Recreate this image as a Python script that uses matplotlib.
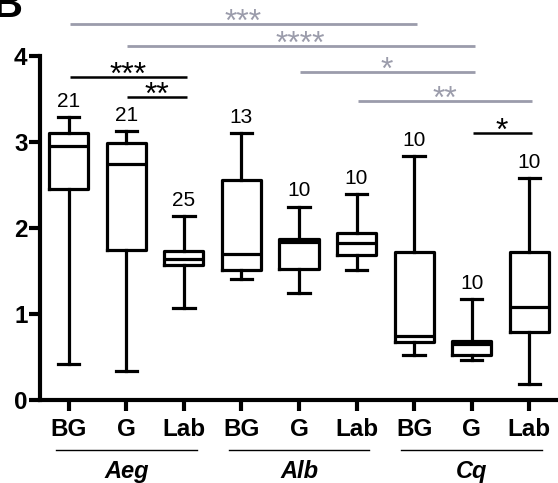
import matplotlib
matplotlib.use("Agg")
import matplotlib.pyplot as plt

plt.rcParams['font.family'] = ['Liberation Sans', 'DejaVu Sans']

# Data
labels = ['BG', 'G', 'Lab', 'BG', 'G', 'Lab', 'BG', 'G', 'Lab']
groups = ['Aeg', 'Alb', 'Cq']
whislo = [0.42, 0.34, 1.07, 1.41, 1.25, 1.51, 0.52, 0.46, 0.19]
q1 = [2.45, 1.75, 1.57, 1.51, 1.52, 1.69, 0.67, 0.52, 0.79]
med = [2.95, 2.75, 1.64, 1.70, 1.84, 1.83, 0.74, 0.65, 1.08]
q3 = [3.10, 2.99, 1.73, 2.56, 1.87, 1.94, 1.72, 0.69, 1.72]
whishi = [3.29, 3.13, 2.14, 3.10, 2.25, 2.40, 2.84, 1.17, 2.58]
n_obs = [21, 21, 25, 13, 10, 10, 10, 10, 10]

# significance brackets: (start box, end box, height, text, gray?)
sig_pairs = [(1, 3, 3.76, '***', False),
             (2, 3, 3.52, '**', False),
             (8, 9, 3.10, '*', False),
             (1, 7, 4.37, '***', True),
             (2, 8, 4.12, '****', True),
             (5, 8, 3.81, '*', True),
             (6, 9, 3.48, '**', True)]

gray = '#9b9cab'
lw = 2.3

fig = plt.figure(figsize=(5.58, 4.83), dpi=100)
ax = fig.add_axes([40 / 558, 83 / 483, 518 / 558, 400 / 483])

pos = list(range(1, len(labels) + 1))
stats = [dict(whislo=whislo[i], q1=q1[i], med=med[i], q3=q3[i],
              whishi=whishi[i], fliers=[]) for i in range(len(labels))]
ax.bxp(stats, positions=pos, widths=0.68, showfliers=False,
       boxprops=dict(color='black', linewidth=lw),
       medianprops=dict(color='black', linewidth=lw),
       whiskerprops=dict(color='black', linewidth=lw),
       capprops=dict(color='black', linewidth=lw),
       capwidths=0.37)

for p, top, n in zip(pos, whishi, n_obs):
    ax.text(p, top + 0.07, str(n), ha='center', va='bottom', fontsize=15)

for a, b, h, s, is_gray in sig_pairs:
    c = gray if is_gray else 'black'
    lwid = 2.0 if is_gray else 1.8
    ax.plot([a + 0.02, b + 0.05], [h, h], color=c, lw=lwid,
            clip_on=False, solid_capstyle='butt')
    ax.text((a + b) / 2 + 0.03, h - 0.08, s, ha='center', va='baseline',
            fontsize=23, color=c)

ax.set_xlim(0.5, 9.5)
ax.set_ylim(0, 400 / 86)
ax.set_yticks([0, 1, 2, 3, 4])
ax.set_xticks(pos)
ax.set_xticklabels(labels)
for t in ax.get_xticklabels() + ax.get_yticklabels():
    t.set_fontweight('bold')
ax.tick_params(axis='x', labelsize=17.5, width=lw * 1.3, length=8, pad=5)
ax.tick_params(axis='y', labelsize=17.5, width=lw * 1.3, length=8, pad=1)

ax.spines['top'].set_visible(False)
ax.spines['right'].set_visible(False)
ax.spines['left'].set_linewidth(lw * 1.3)
ax.spines['bottom'].set_linewidth(lw * 1.3)
ax.spines['left'].set_bounds(0, 4)

# group lines and labels below the axis
for gi, g in enumerate(groups):
    center = 2 + 3 * gi
    ax.plot([center - 1.22, center + 1.22], [-0.58, -0.58], color='black',
            lw=1.0, clip_on=False)
    ax.text(center, -0.83, g, ha='center', va='center', fontsize=17,
            fontweight='bold', fontstyle='italic')

fig.text(-0.014, 1 - 17 / 483, 'B', fontsize=30, fontweight='bold',
         ha='left', va='baseline')

fig.savefig('out.png', dpi=100)
